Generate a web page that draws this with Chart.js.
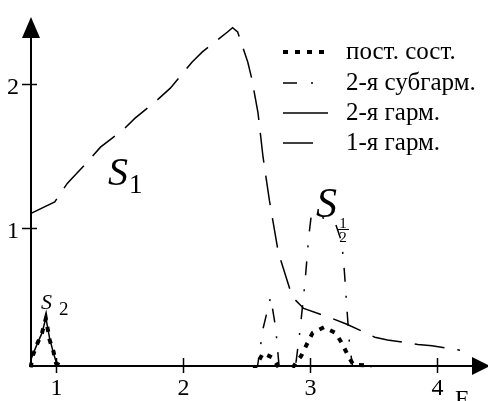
<!DOCTYPE html>
<html><head><meta charset="utf-8">
<script src="https://cdn.jsdelivr.net/npm/chart.js@4.4.1/dist/chart.umd.min.js"></script>
<style>html,body{margin:0;padding:0;background:#fff;overflow:hidden}canvas{display:block}</style>
</head><body>
<canvas id="c" width="488" height="401"></canvas>
<script>
// Tick labels
const xTicks = [1, 2, 3, 4];
const yTicks = [1, 2];
const seriesNames = ['пост. сост.', '2-я субгарм.', '2-я гарм.', '1-я гарм.'];

// пост. сост. (DC component)
const dcX = [0.80, 0.82, 0.85, 0.89, 0.92, 0.95, 0.98, 1.00, 1.04, 1.07, 2.55, 2.58, 2.63, 2.70, 2.74, 2.77, 2.84, 2.88, 2.93, 2.98, 3.02, 3.11, 3.20, 3.25, 3.30, 3.34, 3.43, 3.50];
const dcY = [0.03, 0.12, 0.19, 0.27, 0.37, 0.22, 0.14, 0.06, 0.04, 0.00, 0.00, 0.05, 0.13, 0.10, 0.05, 0.00, 0.00, 0.05, 0.11, 0.20, 0.27, 0.31, 0.27, 0.20, 0.11, 0.05, 0.045, 0.00];

// 2-я субгарм. (2nd subharmonic)
const subX = [2.58, 2.63, 2.69, 2.73, 2.76, 2.88, 2.92, 2.96, 2.99, 3.01, 3.10, 3.20, 3.25, 3.27, 3.29, 3.31, 3.34];
const subY = [0.00, 0.30, 0.52, 0.30, 0.00, 0.00, 0.28, 0.62, 0.94, 1.09, 1.07, 1.03, 0.90, 0.70, 0.44, 0.20, 0.00];

// 2-я гарм. (2nd harmonic)
const h2X = [0.80, 0.85, 0.89, 0.92, 0.95, 0.98, 1.01, 1.03];
const h2Y = [0.08, 0.19, 0.27, 0.375, 0.23, 0.13, 0.04, 0.00];

// 1-я гарм. (1st harmonic)
const h1X = [0.803, 0.99, 1.09, 1.25, 1.35, 1.54, 1.62, 1.80, 1.90, 2.07, 2.15, 2.35, 2.39, 2.43, 2.51, 2.54, 2.59, 2.63, 2.68, 2.75, 2.86, 2.95, 3.16, 3.29, 3.51, 3.61, 3.85, 3.96, 4.18];
const h1Y = [1.10, 1.18, 1.31, 1.46, 1.56, 1.69, 1.76, 1.89, 1.97, 2.15, 2.22, 2.36, 2.39, 2.36, 2.15, 2.04, 1.80, 1.49, 1.19, 0.83, 0.52, 0.44, 0.375, 0.33, 0.24, 0.22, 0.19, 0.18, 0.15];

function pts(xs, ys) { return xs.map((x, i) => ({ x: x, y: ys[i] })); }

const SERIF = '"Liberation Serif", "Times New Roman", serif';

const axesPlugin = {
  id: 'mathcadAxes',
  beforeDatasetsDraw(chart) {
    const ctx = chart.ctx, xs = chart.scales.x, ys = chart.scales.y, a = chart.chartArea;
    ctx.save();
    ctx.strokeStyle = '#000'; ctx.fillStyle = '#000'; ctx.lineWidth = 2; ctx.setLineDash([]);
    // y axis
    ctx.beginPath(); ctx.moveTo(a.left, a.bottom); ctx.lineTo(a.left, a.top + 18); ctx.stroke();
    ctx.beginPath(); ctx.moveTo(a.left, a.top); ctx.lineTo(a.left - 9, a.top + 21); ctx.lineTo(a.left + 9, a.top + 21); ctx.closePath(); ctx.fill();
    // x axis
    ctx.beginPath(); ctx.moveTo(a.left, a.bottom); ctx.lineTo(a.right - 14, a.bottom); ctx.stroke();
    ctx.beginPath(); ctx.moveTo(a.right + 2, a.bottom); ctx.lineTo(a.right - 16, a.bottom - 9); ctx.lineTo(a.right - 16, a.bottom + 9); ctx.closePath(); ctx.fill();
    // ticks
    ctx.lineWidth = 1.5;
    ctx.font = '24px ' + SERIF; ctx.textAlign = 'center'; ctx.textBaseline = 'alphabetic';
    xTicks.forEach(v => {
      const px = Math.round(xs.getPixelForValue(v)) + 0.5;
      ctx.beginPath(); ctx.moveTo(px, a.bottom - 8); ctx.lineTo(px, a.bottom + 7); ctx.stroke();
      ctx.fillText(String(v), px, a.bottom + 29);
    });
    ctx.textAlign = 'right';
    yTicks.forEach(v => {
      const py = Math.round(ys.getPixelForValue(v)) + 0.5;
      ctx.beginPath(); ctx.moveTo(a.left - 9, py); ctx.lineTo(a.left + 6, py); ctx.stroke();
      ctx.fillText(String(v), a.left - 12, py + 9);
    });
    ctx.textAlign = 'left';
    ctx.fillText('F', a.right - 33, a.bottom + 40);
    ctx.restore();
  },
  afterDatasetsDraw(chart) {
    const ctx = chart.ctx;
    ctx.save();
    ctx.fillStyle = '#000'; ctx.strokeStyle = '#000';
    // legend
    const base = [59, 90, 120, 150];
    const order = [0, 1, 2, 3];
    order.forEach((di, r) => {
      const ds = chart.data.datasets[di];
      const y = base[r] - 7;
      ctx.lineWidth = ds.borderWidth; ctx.lineCap = 'butt';
      ctx.setLineDash(ds.borderDash || []);
      ctx.beginPath(); ctx.moveTo(283, y); ctx.lineTo(ds.legendLen, y); ctx.stroke();
      ctx.setLineDash([]);
      ctx.font = '25px ' + SERIF; ctx.textAlign = 'left'; ctx.textBaseline = 'alphabetic';
      ctx.fillText(ds.label, 346, base[r]);
    });
    // curve annotations
    ctx.textAlign = 'left'; ctx.textBaseline = 'alphabetic';
    ctx.font = 'italic 40px ' + SERIF; ctx.fillText('S', 108, 185);
    ctx.font = '27px ' + SERIF; ctx.fillText('1', 129, 193);
    ctx.font = 'italic 22px ' + SERIF; ctx.fillText('S', 41, 309);
    ctx.font = '19px ' + SERIF; ctx.fillText('2', 59, 315);
    ctx.font = 'italic 42px ' + SERIF; ctx.fillText('S', 316, 217);
    ctx.font = '15px ' + SERIF; ctx.textAlign = 'center';
    ctx.fillText('1', 343, 228);
    ctx.fillText('2', 343, 242);
    ctx.lineWidth = 1; ctx.beginPath(); ctx.moveTo(337, 229.5); ctx.lineTo(349, 229.5); ctx.stroke();
    ctx.restore();
  }
};

const common = { showLine: true, borderColor: '#000', backgroundColor: '#000', pointRadius: 0, tension: 0, fill: false, borderCapStyle: 'butt', borderJoinStyle: 'miter' };

new Chart(document.getElementById('c').getContext('2d'), {
  type: 'scatter',
  data: {
    datasets: [
      Object.assign({ label: seriesNames[0], data: pts(dcX, dcY), borderWidth: 4, borderDash: [5, 7], legendLen: 330, clip: 2 }, common),
      Object.assign({ label: seriesNames[1], data: pts(subX, subY), borderWidth: 1.5, borderDash: [14, 14, 2, 14], legendLen: 316, clip: 1 }, common),
      Object.assign({ label: seriesNames[2], data: pts(h2X, h2Y), borderWidth: 1.5, borderDash: [], legendLen: 328, clip: 1 }, common),
      Object.assign({ label: seriesNames[3], data: pts(h1X, h1Y), borderWidth: 1.5, borderDash: [30, 13], legendLen: 315, clip: 1 }, common)
    ]
  },
  options: {
    responsive: false,
    animation: false,
    layout: { padding: { left: 31, top: 17, right: 0, bottom: 35 } },
    scales: {
      x: { type: 'linear', min: 0.803, max: 4.401, display: false },
      y: { type: 'linear', min: 0.04, max: 2.464, display: false }
    },
    plugins: { legend: { display: false }, tooltip: { enabled: false } },
    events: []
  },
  plugins: [axesPlugin]
});
</script>
</body></html>
